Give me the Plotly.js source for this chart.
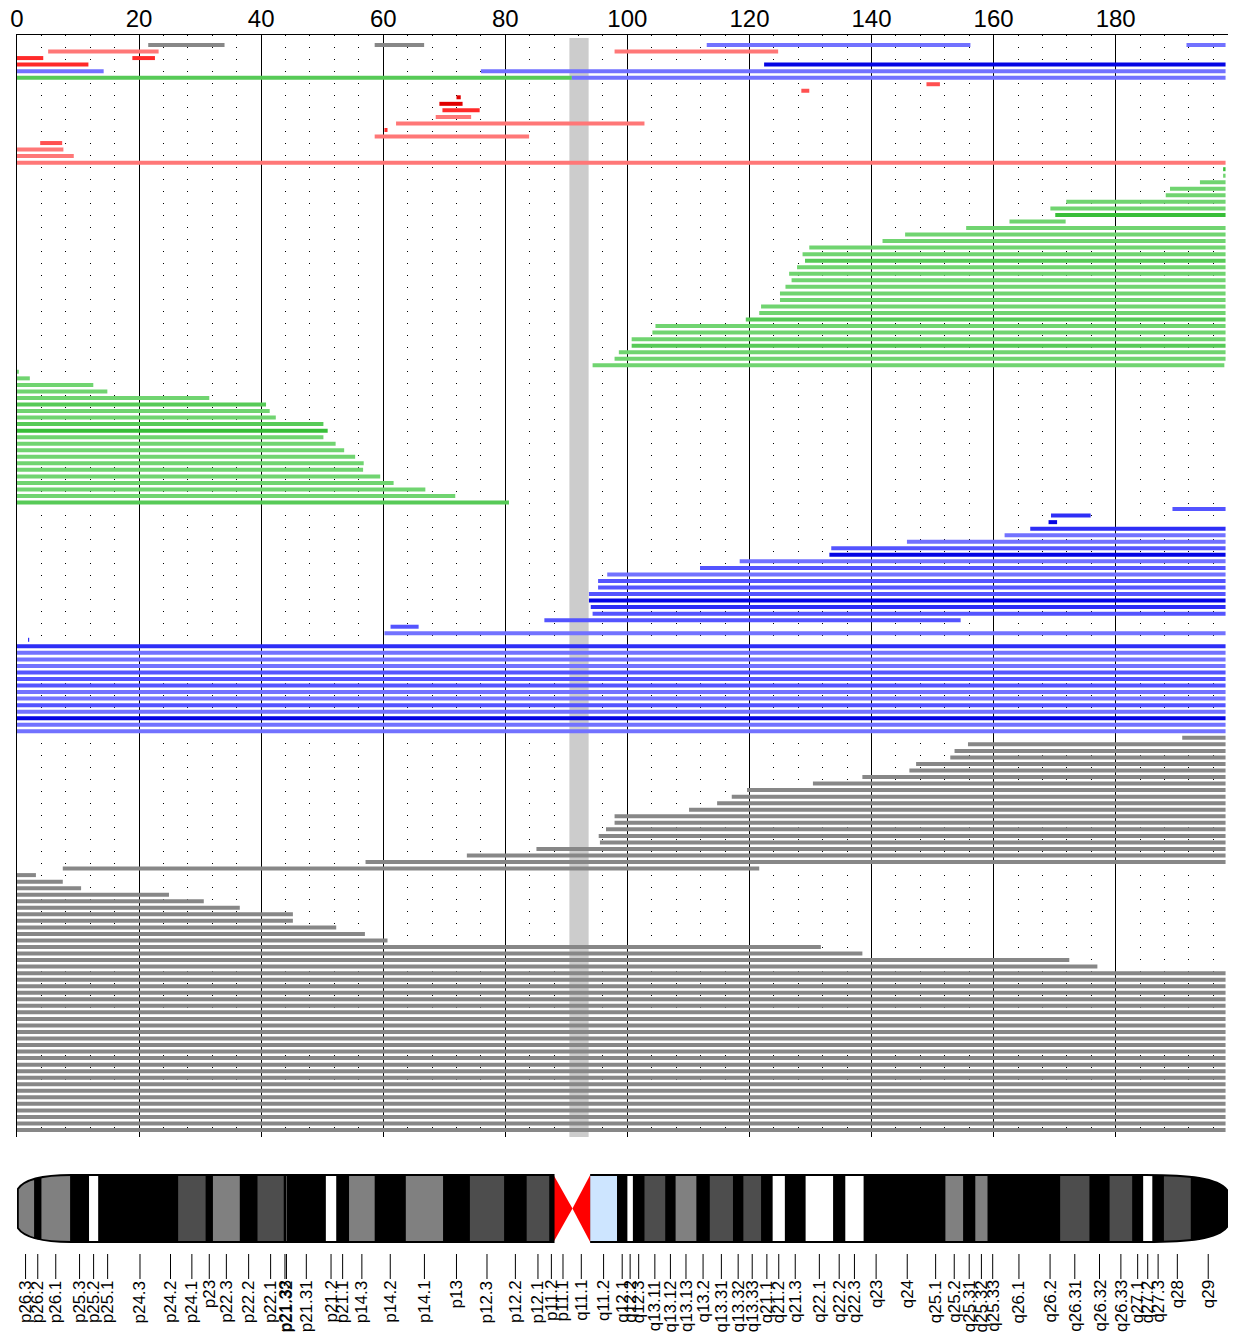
<!DOCTYPE html>
<html>
<head>
<meta charset="utf-8">
<script src="https://cdn.plot.ly/plotly-3.0.1.min.js"></script>
<style>html,body{margin:0;padding:0;background:#fff;}#chart{width:1235px;height:1338px;}</style>
</head>
<body>
<div id="chart"></div>
<script>
// ---------------- DATA ----------------
const CHR_LEN = 198.02;              // chromosome 3 length (Mb)
const CENTRO = [90.5, 93.65];        // centromere region (Mb)
const N_ROWS = 167;

// red segments (row, start, end, shade 1..4)
const redRow   = [2, 2, 3, 3, 4, 7, 8, 9, 10, 11, 12, 13, 14, 15, 16, 17, 18, 19];
const redStart = [5.1, 97.9, 0, 18.9, 0, 149.0, 128.5, 72.0, 69.2, 69.7, 68.6, 62.1, 60.2, 58.6, 3.8, 0, 0, 0];
const redEnd   = [23.2, 124.7, 4.3, 22.6, 11.7, 151.2, 129.8, 72.7, 73.0, 75.8, 74.4, 102.8, 60.7, 83.9, 7.4, 7.6, 9.3, 198.0];
const redShade = [1, 1, 3, 3, 3, 2, 2, 4, 4, 3, 1, 1, 3, 1, 2, 1, 1, 1];

// blue segments
const blueRow   = [1, 1, 4, 5, 5, 6, 72, 73, 74, 75, 76, 77, 78, 79, 80, 81, 82, 83, 84, 85, 86, 87, 88, 89, 90, 91, 92,
                   93, 94, 95, 96, 97, 98, 99, 100, 101, 102, 103, 104, 105, 106];
const blueStart = [113.0, 191.6, 122.4, 0, 76.0, 90.9, 189.3, 169.4, 169.0, 166.0, 161.8, 145.8, 133.4, 133.1, 118.4, 111.9, 96.7, 95.2, 95.2, 93.7, 93.7, 94.0, 94.3, 86.4, 61.2, 60.2, 1.8,
                   0, 0, 0, 0, 0, 0, 0, 0, 0, 0, 0, 0, 0, 0];
const blueEnd   = [156.2, 198.0, 198.0, 14.2, 198.0, 198.0, 198.0, 175.9, 170.4, 198.0, 198.0, 198.0, 198.0, 198.0, 198.0, 198.0, 198.0, 198.0, 198.0, 198.0, 198.0, 198.0, 198.0, 154.6, 65.8, 198.0, 2.0,
                   198.0, 198.0, 198.0, 198.0, 198.0, 198.0, 198.0, 198.0, 198.0, 198.0, 198.0, 198.0, 198.0, 198.0];
const blueShade = [1, 1, 4, 1, 1, 1, 2, 3, 4, 3, 1, 1, 2, 4, 1, 2, 1, 2, 2, 2, 4, 3, 2, 2, 2, 1, 3,
                   3, 1, 1, 1, 2, 2, 2, 1, 1, 2, 1, 4, 1, 1];

// green segments
const greenRow   = [6, 20, 21, 22, 23, 24, 25, 26, 27, 28, 29, 30, 31, 32, 33, 34, 35, 36, 37, 38, 39, 40, 41, 42, 43, 44, 45, 46, 47, 48, 49, 50,
                    51, 52, 53, 54, 55, 56, 57, 58, 59, 60, 61, 62, 63, 64, 65, 66, 67, 68, 69, 70, 71];
const greenStart = [0, 197.6, 197.6, 193.8, 188.9, 188.2, 171.9, 169.3, 170.1, 162.6, 155.5, 145.5, 141.8, 129.8, 128.7, 129.1, 127.8, 126.5, 126.9, 125.9, 125.0, 125.0, 121.9, 121.6, 119.4, 104.6, 104.1, 100.7, 100.7, 98.6, 97.9, 94.3,
                    0, 0, 0, 0, 0, 0, 0, 0, 0, 0, 0, 0, 0, 0, 0, 0, 0, 0, 0, 0, 0];
const greenEnd   = [90.9, 198.0, 198.0, 198.0, 198.0, 198.0, 198.0, 198.0, 198.0, 171.8, 198.0, 198.0, 198.0, 198.0, 198.0, 198.0, 198.0, 198.0, 198.0, 198.0, 198.0, 198.0, 198.0, 198.0, 198.0, 198.0, 198.0, 198.0, 198.0, 198.0, 198.0, 197.8,
                    0.3, 2.1, 12.5, 14.8, 31.5, 40.8, 41.4, 42.4, 50.2, 50.9, 50.2, 52.2, 53.6, 55.4, 56.8, 56.7, 59.5, 61.7, 66.9, 71.8, 80.6];
const greenShade = [2, 3, 1, 1, 1, 1, 1, 1, 3, 1, 1, 1, 1, 1, 1, 2, 1, 1, 1, 1, 1, 1, 1, 1, 2, 1, 1, 1, 2, 1, 1, 1,
                    1, 1, 1, 1, 1, 2, 1, 1, 2, 3, 1, 1, 1, 1, 1, 1, 1, 1, 1, 1, 2];

// gray segments
const grayRow   = [1, 1, 107, 108, 109, 110, 111, 112, 113, 114, 115, 116, 117, 118, 119, 120, 121, 122, 123, 124, 125, 126, 127,
                   128, 129, 130, 131, 132, 133, 134, 135, 136, 137, 138, 139, 140, 141, 142,
                   143, 144, 145, 146, 147, 148, 149, 150, 151, 152, 153, 154, 155, 156, 157, 158, 159, 160, 161, 162, 163, 164, 165, 166, 167];
const grayStart = [21.5, 58.6, 190.9, 155.8, 153.6, 152.9, 147.3, 146.2, 138.5, 130.4, 119.6, 117.1, 114.7, 110.1, 97.9, 97.9, 96.5, 95.3, 95.5, 85.1, 73.7, 57.1, 7.5,
                   0, 0, 0, 0, 0, 0, 0, 0, 0, 0, 0, 0, 0, 0, 0,
                   0, 0, 0, 0, 0, 0, 0, 0, 0, 0, 0, 0, 0, 0, 0, 0, 0, 0, 0, 0, 0, 0, 0, 0, 0];
const grayEnd   = [34.0, 66.7, 198.0, 198.0, 198.0, 198.0, 198.0, 198.0, 198.0, 198.0, 198.0, 198.0, 198.0, 198.0, 198.0, 198.0, 198.0, 198.0, 198.0, 198.0, 198.0, 198.0, 121.6,
                   3.1, 7.5, 10.5, 24.9, 30.6, 36.5, 45.2, 45.2, 52.3, 57.0, 60.7, 131.7, 138.5, 172.4, 177.0,
                   198.0, 198.0, 198.0, 198.0, 198.0, 198.0, 198.0, 198.0, 198.0, 198.0, 198.0, 198.0, 198.0, 198.0, 198.0, 198.0, 198.0, 198.0, 198.0, 198.0, 198.0, 198.0, 198.0, 198.0, 198.0];

// cytobands (hg19, Mb)
const bandName  = ['p26.3','p26.2','p26.1','p25.3','p25.2','p25.1','p24.3','p24.2','p24.1','p23','p22.3','p22.2','p22.1','p21.33','p21.32','p21.31','p21.2','p21.1','p14.3','p14.2','p14.1','p13','p12.3','p12.2','p12.1','p11.2','p11.1',
                   'q11.1','q11.2','q12.1','q12.2','q12.3','q13.11','q13.12','q13.13','q13.2','q13.31','q13.32','q13.33','q21.1','q21.2','q21.3','q22.1','q22.2','q22.3','q23','q24','q25.1','q25.2','q25.31','q25.32','q25.33','q26.1','q26.2','q26.31','q26.32','q26.33','q27.1','q27.2','q27.3','q28','q29'];
const bandStart = [0,2.8,4.0,8.7,11.8,13.3,16.4,23.9,26.4,30.9,32.1,36.5,39.4,43.7,44.1,44.2,50.6,52.3,54.4,58.6,63.7,69.8,74.2,79.8,83.5,87.2,87.9,
                   91.0,93.9,98.3,100.0,100.9,102.8,106.2,107.9,111.3,113.5,117.3,119.0,121.9,123.8,125.8,129.2,133.7,135.7,138.7,142.8,148.9,152.1,155.0,157.0,159.0,160.7,167.6,170.9,175.7,179.0,182.7,184.5,186.0,187.9,192.3];
const bandEnd   = [2.8,4.0,8.7,11.8,13.3,16.4,23.9,26.4,30.9,32.1,36.5,39.4,43.7,44.1,44.2,50.6,52.3,54.4,58.6,63.7,69.8,74.2,79.8,83.5,87.2,87.9,91.0,
                   93.9,98.3,100.0,100.9,102.8,106.2,107.9,111.3,113.5,117.3,119.0,121.9,123.8,125.8,129.2,133.7,135.7,138.7,142.8,148.9,152.1,155.0,157.0,159.0,160.7,167.6,170.9,175.7,179.0,182.7,184.5,186.0,187.9,192.3,198.02];
const bandStain = ['gpos50','gneg','gpos50','gneg','gpos25','gneg','gpos100','gneg','gpos75','gneg','gpos50','gneg','gpos75','gneg','gpos50','gneg','gpos25','gneg','gpos50','gneg','gpos50','gneg','gpos75','gneg','gpos75','gneg','acen',
                   'acen','gvar','gneg','gpos25','gneg','gpos75','gneg','gpos50','gneg','gpos75','gneg','gpos75','gneg','gpos25','gneg','gpos25','gneg','gpos25','gneg','gpos100','gneg','gpos50','gneg','gpos50','gneg','gpos100','gneg','gpos75','gneg','gpos75','gneg','gpos25','gneg','gpos75','gneg'];
const xTicks = [0, 20, 40, 60, 80, 100, 120, 140, 160, 180];

// ---------------- STYLE ----------------
const FONT = 'Liberation Sans, Arial, Helvetica, sans-serif';
const shadeColors = {
  red:   {1:'#FF7777', 2:'#FF5050', 3:'#FF2A2A', 4:'#E00000'},
  blue:  {1:'#7272FF', 2:'#5454FF', 3:'#2E2EF6', 4:'#0505E4'},
  green: {1:'#70D470', 2:'#57CA57', 3:'#38BE38'},
  gray:  {1:'#878787'}
};
const stainColor = {gneg:'#000000', gpos25:'#FFFFFF', gpos50:'#808080', gpos75:'#4D4D4D', gpos100:'#000000', gvar:'#CDE5FF', acen:'#FF0000'};

// ---------------- TRACES ----------------
const traces = [];
function addGroup(name, rows, starts, ends, shades) {
  const byShade = {};
  rows.forEach((r, i) => {
    const s = shades ? shades[i] : 1;
    (byShade[s] = byShade[s] || {x:[], y:[]});
    byShade[s].x.push(starts[i], ends[i], null);
    byShade[s].y.push(r, r, null);
  });
  Object.keys(byShade).forEach(s => {
    traces.push({type:'scatter', mode:'lines', x:byShade[s].x, y:byShade[s].y, xaxis:'x', yaxis:'y',
      line:{color:shadeColors[name][s], width:4}, hoverinfo:'skip', showlegend:false, connectgaps:false});
  });
}
addGroup('gray', grayRow, grayStart, grayEnd, null);
addGroup('red', redRow, redStart, redEnd, redShade);
addGroup('green', greenRow, greenStart, greenEnd, greenShade);
addGroup('blue', blueRow, blueStart, blueEnd, blueShade);

// ---------------- SHAPES ----------------
const shapes = [];
shapes.push({type:'rect', xref:'x', yref:'y', x0:CENTRO[0], x1:CENTRO[1], y0:-0.07, y1:N_ROWS + 1.07,
  fillcolor:'#CCCCCC', line:{width:0}, layer:'between'});

// ideogram (yaxis2 values are page pixels)
const IT = 1175, IB = 1242, IM = (IT + IB) / 2;
const pAcen = bandName.indexOf('p11.1'), qAcen = bandName.indexOf('q11.1');
const pEnd = bandStart[pAcen];
const qStart = bandEnd[qAcen];
// black base for each arm, then the non-black bands on top (avoids seams)
shapes.push({type:'rect', xref:'x2', yref:'y2', x0:0, x1:pEnd, y0:IT, y1:IB, fillcolor:'#000', line:{width:0}});
shapes.push({type:'rect', xref:'x2', yref:'y2', x0:qStart, x1:198.4, y0:IT, y1:IB, fillcolor:'#000', line:{width:0}});
bandName.forEach((b, i) => {
  const c = stainColor[bandStain[i]];
  if (bandStain[i] === 'acen' || c === '#000000') return;
  shapes.push({type:'rect', xref:'x2', yref:'y2', x0:bandStart[i], x1:bandEnd[i], y0:IT, y1:IB,
    fillcolor:c, line:{width:0}});
});
shapes.push({type:'path', xref:'x2', yref:'y2', path:`M ${bandStart[pAcen]},${IT} L ${bandStart[pAcen]},${IB} L ${bandEnd[pAcen]},${IM} Z`,
  fillcolor:stainColor.acen, line:{width:0}});
shapes.push({type:'path', xref:'x2', yref:'y2', path:`M ${bandEnd[qAcen]},${IT} L ${bandEnd[qAcen]},${IB} L ${bandStart[qAcen]},${IM} Z`,
  fillcolor:stainColor.acen, line:{width:0}});
// rounded caps: white masks
const LC = [0.13, 1.31, 4.59, 8.85];   // left cap curve x (Mb)
const RC = [184.9, 192.1, 196.7, 198.25]; // right cap curve x (Mb)
const capTop = 1189, capBot = 1228;
const masks = [
  `M -1,${IT-2} L ${LC[3]},${IT-2} L ${LC[3]},${IT} C ${LC[2]},${IT} ${LC[1]},${IT+3} ${LC[0]},${capTop} L -1,${capTop} Z`,
  `M -1,${IB+2} L ${LC[3]},${IB+2} L ${LC[3]},${IB} C ${LC[2]},${IB} ${LC[1]},${IB-3} ${LC[0]},${capBot} L -1,${capBot} Z`,
  `M 200,${IT-2} L ${RC[0]},${IT-2} L ${RC[0]},${IT} C ${RC[1]},${IT} ${RC[2]},${IT+3} ${RC[3]},${capTop+1} L 200,${capTop+1} Z`,
  `M 200,${IB+2} L ${RC[0]},${IB+2} L ${RC[0]},${IB} C ${RC[1]},${IB} ${RC[2]},${IB-3} ${RC[3]},${capBot-1} L 200,${capBot-1} Z`,
  `M ${RC[3]},${capTop} L 200,${capTop} L 200,${capBot} L ${RC[3]},${capBot} Z`
];
masks.forEach(p => shapes.push({type:'path', xref:'x2', yref:'y2', path:p, fillcolor:'#FFFFFF', line:{width:0}}));
// outlines
shapes.push({type:'path', xref:'x2', yref:'y2', fillcolor:'rgba(0,0,0,0)', line:{color:'#000', width:2},
  path:`M ${LC[3]},${IT} L ${pEnd},${IT} L ${pEnd},${IB} L ${LC[3]},${IB} C ${LC[2]},${IB} ${LC[1]},${IB-3} ${LC[0]},${capBot} L ${LC[0]},${capTop} C ${LC[1]},${IT+3} ${LC[2]},${IT} ${LC[3]},${IT} Z`});
shapes.push({type:'path', xref:'x2', yref:'y2', fillcolor:'rgba(0,0,0,0)', line:{color:'#000', width:2},
  path:`M ${qStart},${IT} L ${RC[0]},${IT} C ${RC[1]},${IT} ${RC[2]},${IT+3} ${RC[3]},${capTop+1} L ${RC[3]},${capBot-1} C ${RC[2]},${IB-3} ${RC[1]},${IB} ${RC[0]},${IB} L ${qStart},${IB}`});

// band labels
const annotations = [];
const LBL_TOP = 1279;
bandName.forEach((b, i) => {
  const mid = (bandStart[i] + bandEnd[i]) / 2;
  shapes.push({type:'line', xref:'x2', yref:'y2', x0:mid, x1:mid, y0:1254, y1:LBL_TOP, line:{color:'#000', width:1}});
  annotations.push({xref:'x2', yref:'y2', x:mid, y:LBL_TOP, text:b, showarrow:false, textangle:-90,
    xanchor:'center', yanchor:'top', borderpad:0, font:{family:FONT, size:17, color:'#000'}});
});

// ---------------- LAYOUT ----------------
const mainBottom = (1338 - 1137) / (1338 - 35);
const layout = {
  width:1235, height:1338,
  margin:{l:17, r:7, t:35, b:0, pad:0},
  paper_bgcolor:'#FFFFFF', plot_bgcolor:'#FFFFFF',
  showlegend:false, hovermode:false,
  xaxis:{domain:[0,1], anchor:'y', side:'top', range:[0, 198.4],
    tickmode:'array', tickvals:xTicks, ticktext:xTicks.map(String), ticks:'', ticklabelstandoff:-3,
    tickfont:{family:FONT, size:24, color:'#000'},
    showgrid:true, gridcolor:'#000', gridwidth:1,
    minor:{dtick:4, tick0:0, showgrid:true, gridcolor:'#000', gridwidth:1, griddash:'1px,11px', ticks:''},
    showline:true, linecolor:'#000', linewidth:1, zeroline:false, fixedrange:true},
  yaxis:{domain:[mainBottom,1], anchor:'x', range:[N_ROWS + 1.07, -0.53],
    showgrid:false, zeroline:false, showticklabels:false, ticks:'',
    showline:true, linecolor:'#000', linewidth:1, fixedrange:true},
  xaxis2:{domain:[0,1], anchor:'y2', range:[0, 198.4], visible:false, fixedrange:true},
  yaxis2:{domain:[0,mainBottom], anchor:'x2', range:[1338, 1137], visible:false, fixedrange:true},
  shapes:shapes,
  annotations:annotations
};
// dummy trace so the second subplot exists
traces.push({type:'scatter', mode:'markers', x:[null], y:[null], xaxis:'x2', yaxis:'y2', hoverinfo:'skip', showlegend:false});

Plotly.newPlot('chart', traces, layout, {staticPlot:true, displayModeBar:false});
</script>
</body>
</html>
